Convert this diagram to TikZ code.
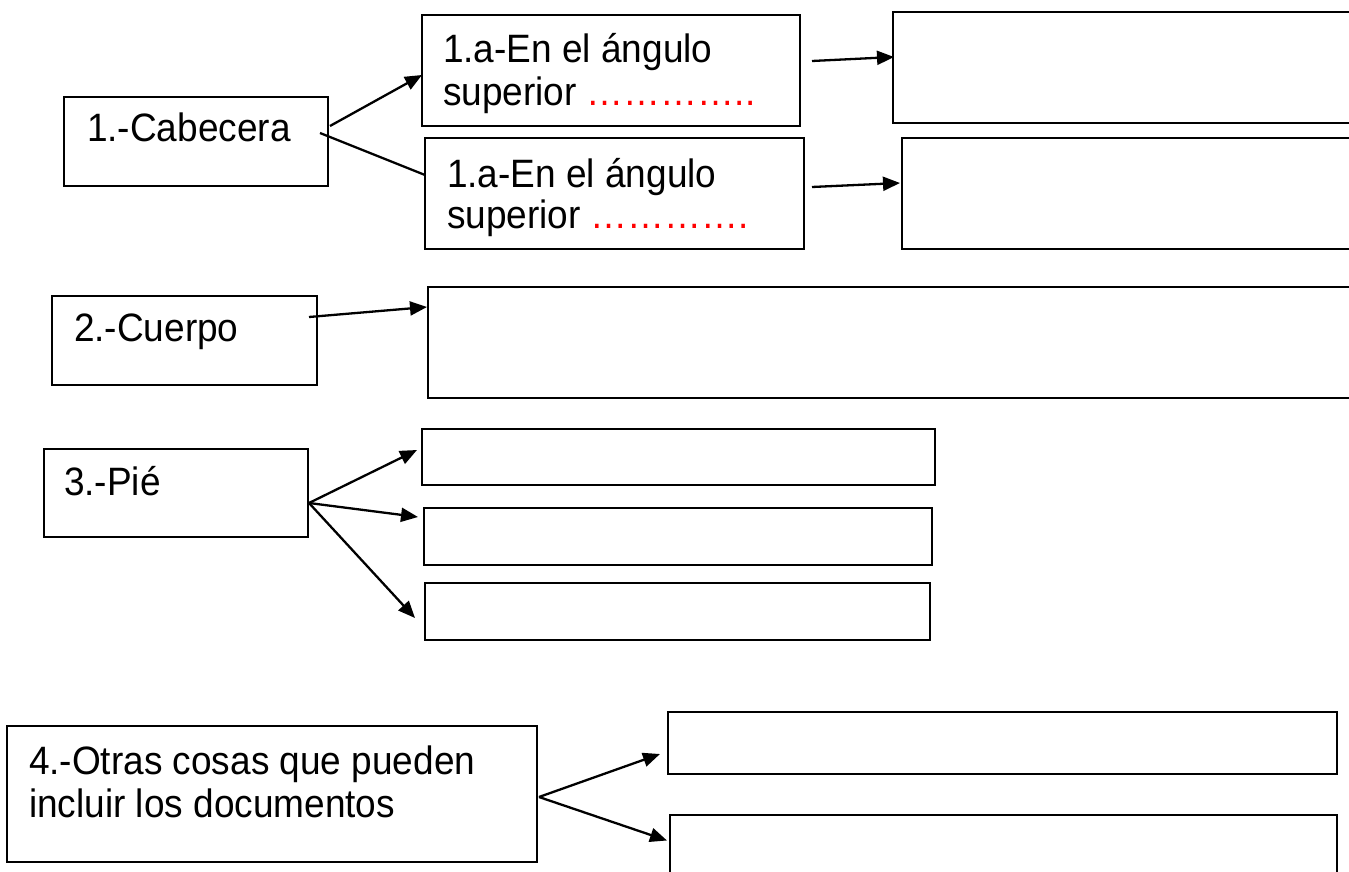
\documentclass[tikz,border=0pt]{standalone}
\usepackage{fontspec}
\usepackage{graphicx}
\setmainfont{Liberation Sans}
\usetikzlibrary{arrows.meta}
\newcommand{\tallt}[1]{\scalebox{1}[1.07]{#1}}
\tikzset{
  box/.style={draw, line width=1.4pt, inner sep=0pt, outer sep=0pt, anchor=north west},
  txt/.style={inner sep=0pt, outer sep=0pt, anchor=base west, font=\fontsize{37}{37}\selectfont},
  conn/.style={line width=2.3pt, -{Triangle[length=17pt,width=14pt]}},
  plain/.style={line width=2.3pt},
}
\begin{document}
\begin{tikzpicture}[x=1pt,y=-1pt]
\useasboundingbox (0,0) rectangle (1349,872);
\fill[white] (0,0) rectangle (1349,872);
\clip (0,0) rectangle (1349,872);

% 1. Cabecera
\node[box, minimum width=264pt, minimum height=89pt] (cab) at (64,97) {};
\node[txt] (cabt) at (87,142) {\tallt{1.-Cabecera}};
\node[box, minimum width=378pt, minimum height=111pt] (a1) at (422,15) {};
\node[txt] (a1t1) at (443,63) {\tallt{1.a-En el ángulo}};
\node[txt] (a1t2) at (443,106) {\tallt{superior \textcolor{red}{…………..}}};
\node[box, minimum width=379pt, minimum height=111pt] (a2) at (425,138) {};
\node[txt] (a2t1) at (447,187) {\tallt{1.a-En el ángulo}};
\node[txt] (a2t2) at (447,228) {\tallt{superior \textcolor{red}{………….}}};
\node[box, minimum width=470pt, minimum height=111pt] (r1) at (893,12) {};
\node[box, minimum width=460pt, minimum height=111pt] (r2) at (902,138) {};

% 2. Cuerpo
\node[box, minimum width=265pt, minimum height=89pt] (cue) at (52,296) {};
\node[txt] (cuet) at (74,341) {\tallt{2.-Cuerpo}};
\node[box, minimum width=935pt, minimum height=111pt] (cueb) at (428,287) {};

% 3. Pie
\node[box, minimum width=264pt, minimum height=88pt] (pie) at (44,449) {};
\node[txt] (piet) at (64,495) {\tallt{3.-Pié}};
\node[box, minimum width=513pt, minimum height=56pt] (p1) at (422,429) {};
\node[box, minimum width=508pt, minimum height=57pt] (p2) at (424,508) {};
\node[box, minimum width=505pt, minimum height=57pt] (p3) at (425,583) {};

% 4. Otras
\node[box, minimum width=530pt, minimum height=136pt] (otr) at (7,726) {};
\node[txt] (otrt1) at (29,774) {\tallt{4.-Otras cosas que pueden}};
\node[txt] (otrt2) at (29,817) {\tallt{incluir los documentos}};
\node[box, minimum width=669pt, minimum height=62pt] (o1) at (668,712) {};
\node[box, minimum width=667pt, minimum height=80pt] (o2) at (670,815) {};

% connector points
\coordinate (cabA) at ([xshift=2pt,yshift=15.5pt]cab.east);
\coordinate (cabB) at ([xshift=-8pt,yshift=8.5pt]cab.east);
\coordinate (a1in) at ([yshift=-4.5pt]a1.west);
\coordinate (a2in) at ([yshift=18.5pt]a2.west);
\coordinate (a1out) at ([xshift=12pt,yshift=9.5pt]a1.east);
\coordinate (r1in) at ([xshift=1pt,yshift=10.5pt]r1.west);
\coordinate (a2out) at ([xshift=8pt,yshift=6.5pt]a2.east);
\coordinate (r2in) at ([xshift=-2pt,yshift=10.5pt]r2.west);
\coordinate (cueout) at ([xshift=-8pt,yshift=23.5pt]cue.east);
\coordinate (cuebin) at ([xshift=-1pt,yshift=35.5pt]cueb.west);
\coordinate (pieout) at ([xshift=1pt,yshift=-10pt]pie.east);
\coordinate (p1in) at ([xshift=-5pt,yshift=7pt]p1.west);
\coordinate (p2in) at ([xshift=-6pt,yshift=19.5pt]p2.west);
\coordinate (p3in) at ([xshift=-10pt,yshift=-6.5pt]p3.west);
\coordinate (otrout) at ([xshift=2pt,yshift=-3pt]otr.east);
\coordinate (o1in) at ([xshift=-8pt,yshift=-11pt]o1.west);
\coordinate (o2in) at ([xshift=-3pt,yshift=14.5pt]o2.west);

\draw[conn] (cabA) -- (a1in);
\draw[plain] (cabB) -- (a2in);
\draw[conn] (a1out) -- (r1in);
\draw[conn] (a2out) -- (r2in);
\draw[conn] (cueout) -- (cuebin);
\draw[conn] (pieout) -- (p1in);
\draw[conn] (pieout) -- (p2in);
\draw[conn] (pieout) -- (p3in);
\draw[conn] (otrout) -- (o1in);
\draw[conn] (otrout) -- (o2in);
\end{tikzpicture}
\end{document}
